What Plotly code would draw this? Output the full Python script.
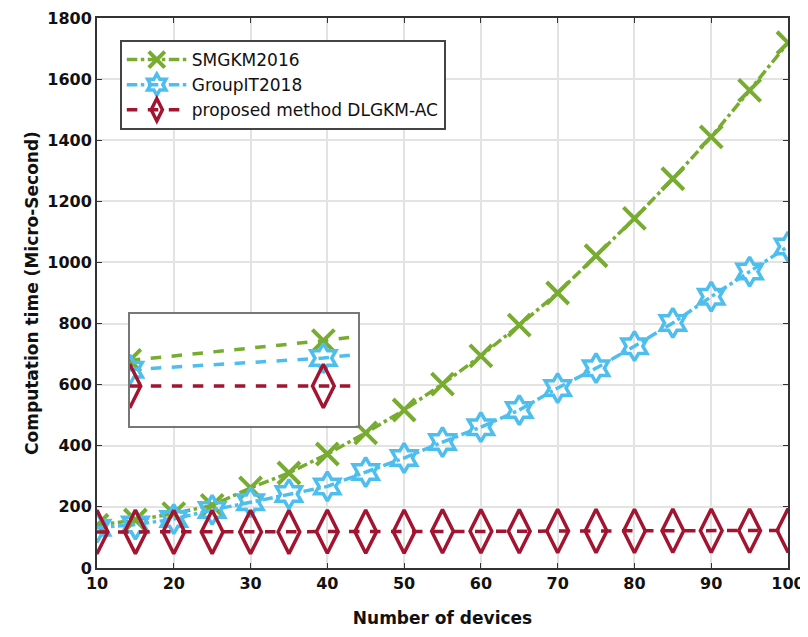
import plotly.graph_objects as go

devices = [10, 15, 20, 25, 30, 35, 40, 45, 50, 55, 60, 65, 70, 75, 80, 85, 90, 95, 100]
smgkm2016 = [140, 157, 178, 205, 262, 311, 373, 442, 517, 602, 694, 795, 900, 1022, 1144, 1274, 1411, 1563, 1719]
groupit2018 = [132, 142, 160, 190, 215, 242, 267, 314, 360, 412, 461, 517, 589, 654, 726, 802, 888, 970, 1052]
proposed = [118, 118, 118, 118, 118, 118, 119, 119, 119, 120, 120, 120, 121, 121, 121, 122, 122, 122, 123]

GREEN = "#77AC30"
BLUE = "#4DBEEE"
RED = "#A2142F"
FONT = "DejaVu Sans, Liberation Sans, Arial"

fig = go.Figure()

def add_series(y, name, color, dash, symbol, size, lw, xaxis="x", yaxis="y", show=True):
    fig.add_trace(go.Scatter(
        x=devices, y=y, name=name, mode="lines+markers",
        line=dict(color=color, width=3.5, dash=dash),
        marker=dict(symbol=symbol, size=size, color=color,
                    line=dict(color=color, width=lw)),
        xaxis=xaxis, yaxis=yaxis, showlegend=show, cliponaxis=True))

add_series(smgkm2016, "SMGKM2016", GREEN, "dashdot", "x-thin-open", 22, 4)
add_series(groupit2018, "GroupIT2018", BLUE, "dashdot", "hexagram-open", 22, 3.5)
add_series(proposed, "proposed method DLGKM-AC", RED, "dash", "diamond-tall-open", 31, 3.5)

# inset
add_series(smgkm2016, "SMGKM2016", GREEN, "dash", "x-thin-open", 22, 4, "x2", "y2", False)
add_series(groupit2018, "GroupIT2018", BLUE, "dash", "hexagram-open", 22, 3.5, "x2", "y2", False)
add_series(proposed, "proposed method DLGKM-AC", RED, "dash", "diamond-tall-open", 31, 3.5, "x2", "y2", False)

tick_font = dict(family=FONT, size=16, color="#111111", weight="bold")
title_font = dict(family=FONT, size=17, color="#111111")
fig.update_layout(
    width=800, height=629,
    margin=dict(l=89, r=20, t=10, b=69),
    paper_bgcolor="white", plot_bgcolor="white",
    font=dict(family=FONT, size=14, color="#111111"),
    xaxis=dict(range=[10, 100], tickvals=list(range(10, 101, 10)),
               showgrid=True, gridcolor="#e3e3e3", gridwidth=1.5,
               ticks="inside", ticklen=5, tickcolor="#333",
               showline=True, linecolor="#333333", linewidth=2, mirror="ticks",
               zeroline=False, tickfont=tick_font, ticklabeloverflow="allow",
               automargin=False,
               title=dict(text="<b>Number of devices</b>", font=title_font, standoff=20)),
    yaxis=dict(range=[0, 1800], tickvals=list(range(0, 1801, 200)),
               showgrid=True, gridcolor="#e3e3e3", gridwidth=1.5,
               ticks="inside", ticklen=5, tickcolor="#333",
               showline=True, linecolor="#333333", linewidth=2, mirror="ticks",
               zeroline=False, tickfont=tick_font, ticklabeloverflow="allow",
               automargin=False,
               title=dict(text="<b>Computation time (Micro-Second)</b>", font=title_font, standoff=4)),
    xaxis2=dict(domain=[0.0475, 0.378], anchor="y2", range=[10, 15.9],
                showgrid=False, showticklabels=False, ticks="",
                showline=True, linecolor="#777777", linewidth=2, mirror=True, zeroline=False),
    yaxis2=dict(domain=[0.259, 0.462], anchor="x2", range=[84, 180],
                showgrid=False, showticklabels=False, ticks="",
                showline=True, linecolor="#777777", linewidth=2, mirror=True, zeroline=False),
    legend=dict(x=0.033, y=0.96, xanchor="left", yanchor="top",
                bgcolor="white", bordercolor="#444444", borderwidth=2,
                font=dict(family=FONT, size=17, color="#111"),
                itemwidth=60, tracegroupgap=0),
)

fig.write_html("out.html")
